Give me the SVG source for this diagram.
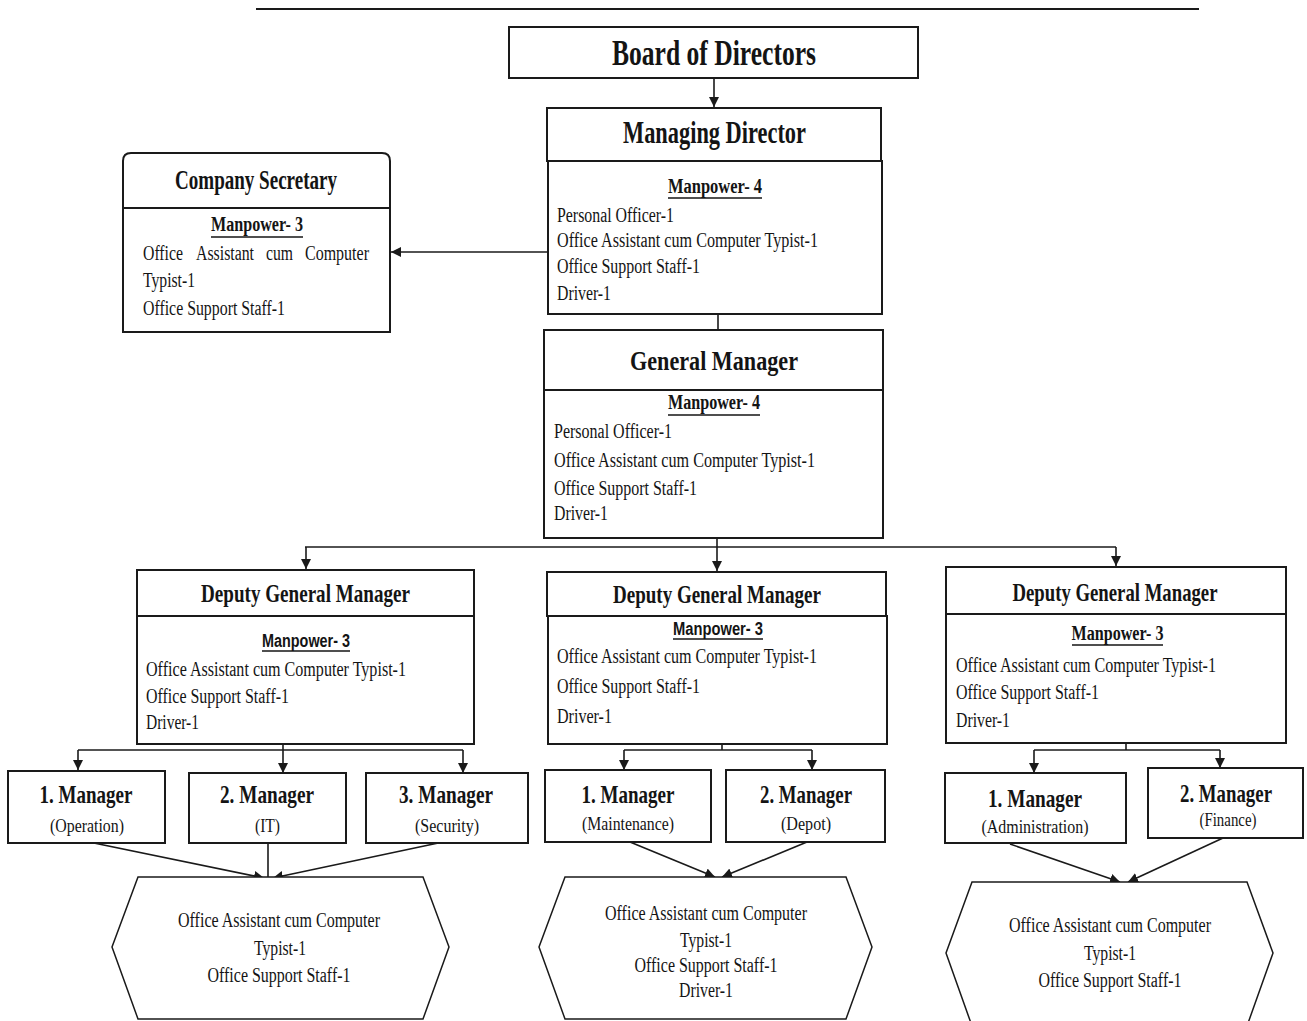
<svg xmlns="http://www.w3.org/2000/svg" width="1307" height="1021" viewBox="0 0 1307 1021">
<style>
.box{fill:#fff;stroke:#1a1a1a;stroke-width:2}
.hex{fill:#fff;stroke:#1a1a1a;stroke-width:1.5}
.con{fill:none;stroke:#1a1a1a;stroke-width:1.6}
.t{font-family:"Liberation Serif","Times New Roman",serif;fill:#141414}
.title{font-weight:bold}
.body{font-size:20px}
.mp{font-size:20px;font-weight:bold}
.mps{font-family:"Liberation Sans",Arial,sans-serif;font-size:18px;font-weight:bold;fill:#141414}
.ul{stroke:#141414;stroke-width:1.5}
.c{text-anchor:middle}
</style>
<defs>
<marker id="ah" markerUnits="userSpaceOnUse" markerWidth="11" markerHeight="10" refX="10" refY="5" orient="auto">
<path d="M0,0 L10,5 L0,10 z" fill="#1a1a1a"/>
</marker>
</defs>
<rect width="1307" height="1021" fill="#fff"/>
<line x1="256" y1="9" x2="1199" y2="9" stroke="#1a1a1a" stroke-width="2"/>

<g id="connectors">
<line class="con" x1="714" y1="78" x2="714" y2="107" marker-end="url(#ah)"/>
<line class="con" x1="547" y1="252" x2="391" y2="252" marker-end="url(#ah)"/>
<line class="con" x1="718" y1="314" x2="718" y2="330"/>
<polyline class="con" points="717,538 717,547"/>
<line class="con" x1="305" y1="547" x2="1116" y2="547"/>
<line class="con" x1="306" y1="547" x2="306" y2="569" marker-end="url(#ah)"/>
<line class="con" x1="717" y1="547" x2="717" y2="571" marker-end="url(#ah)"/>
<line class="con" x1="1116" y1="547" x2="1116" y2="566" marker-end="url(#ah)"/>
<line class="con" x1="283" y1="744" x2="283" y2="750"/>
<line class="con" x1="78" y1="750" x2="463" y2="750"/>
<line class="con" x1="78" y1="750" x2="78" y2="770" marker-end="url(#ah)"/>
<line class="con" x1="283" y1="750" x2="283" y2="773" marker-end="url(#ah)"/>
<line class="con" x1="463" y1="750" x2="463" y2="773" marker-end="url(#ah)"/>
<line class="con" x1="722" y1="744" x2="722" y2="750"/>
<line class="con" x1="624" y1="750" x2="812" y2="750"/>
<line class="con" x1="624" y1="750" x2="624" y2="770" marker-end="url(#ah)"/>
<line class="con" x1="812" y1="750" x2="812" y2="770" marker-end="url(#ah)"/>
<line class="con" x1="1126" y1="743" x2="1126" y2="750"/>
<line class="con" x1="1034" y1="750" x2="1220" y2="750"/>
<line class="con" x1="1034" y1="750" x2="1034" y2="773" marker-end="url(#ah)"/>
<line class="con" x1="1220" y1="750" x2="1220" y2="768" marker-end="url(#ah)"/>
<line class="con" x1="89" y1="842" x2="264" y2="878" marker-end="url(#ah)"/>
<line class="con" x1="268" y1="843" x2="268" y2="877"/>
<line class="con" x1="443" y1="842" x2="273" y2="878" marker-end="url(#ah)"/>
<line class="con" x1="630" y1="842" x2="715" y2="877" marker-end="url(#ah)"/>
<line class="con" x1="807" y1="842" x2="722" y2="877" marker-end="url(#ah)"/>
<line class="con" x1="1010" y1="844" x2="1120" y2="882" marker-end="url(#ah)"/>
<line class="con" x1="1223" y1="838" x2="1128" y2="882" marker-end="url(#ah)"/>
</g>

<g id="board">
<rect class="box" x="509" y="27" width="409" height="51"/>
<text class="t title c" x="714" y="65" font-size="36" textLength="204" lengthAdjust="spacingAndGlyphs">Board of Directors</text>
</g>

<g id="managing-director">
<rect class="box" x="548" y="161" width="334" height="153"/>
<rect class="box" x="547" y="108" width="334" height="53"/>
<text class="t title c" x="714.5" y="143" font-size="31" textLength="183" lengthAdjust="spacingAndGlyphs">Managing Director</text>
<text class="t mp c" x="715" y="193" textLength="94" lengthAdjust="spacingAndGlyphs">Manpower- 4</text>
<line class="ul" x1="668" y1="198" x2="762" y2="198"/>
<text class="t body" x="557" y="222" textLength="117" lengthAdjust="spacingAndGlyphs">Personal Officer-1</text>
<text class="t body" x="557" y="247" textLength="261" lengthAdjust="spacingAndGlyphs">Office Assistant cum Computer Typist-1</text>
<text class="t body" x="557" y="273" textLength="143" lengthAdjust="spacingAndGlyphs">Office Support Staff-1</text>
<text class="t body" x="557" y="300" textLength="54" lengthAdjust="spacingAndGlyphs">Driver-1</text>
</g>

<g id="company-secretary">
<path class="box" d="M123,332 V161 Q123,153 131,153 H382 Q390,153 390,161 V332 Z"/>
<line class="box" x1="123" y1="208" x2="390" y2="208"/>
<text class="t title c" x="256" y="189" font-size="27" textLength="162" lengthAdjust="spacingAndGlyphs">Company Secretary</text>
<text class="t mp c" x="257" y="231" textLength="92" lengthAdjust="spacingAndGlyphs">Manpower- 3</text>
<line class="ul" x1="211" y1="237" x2="303" y2="237"/>
<text class="t body" y="260"><tspan x="143" textLength="40" lengthAdjust="spacingAndGlyphs">Office</tspan><tspan x="196" textLength="58" lengthAdjust="spacingAndGlyphs">Assistant</tspan><tspan x="266" textLength="27" lengthAdjust="spacingAndGlyphs">cum</tspan><tspan x="305" textLength="64" lengthAdjust="spacingAndGlyphs">Computer</tspan></text>
<text class="t body" x="143" y="287" textLength="52" lengthAdjust="spacingAndGlyphs">Typist-1</text>
<text class="t body" x="143" y="315" textLength="142" lengthAdjust="spacingAndGlyphs">Office Support Staff-1</text>
</g>

<g id="general-manager">
<rect class="box" x="544" y="390" width="339" height="148"/>
<rect class="box" x="544" y="330" width="339" height="60"/>
<text class="t title c" x="714" y="370" font-size="28" textLength="168" lengthAdjust="spacingAndGlyphs">General Manager</text>
<text class="t mp c" x="714" y="409" textLength="92" lengthAdjust="spacingAndGlyphs">Manpower- 4</text>
<line class="ul" x1="668" y1="415" x2="760" y2="415"/>
<text class="t body" x="554" y="438" textLength="118" lengthAdjust="spacingAndGlyphs">Personal Officer-1</text>
<text class="t body" x="554" y="467" textLength="261" lengthAdjust="spacingAndGlyphs">Office Assistant cum Computer Typist-1</text>
<text class="t body" x="554" y="495" textLength="143" lengthAdjust="spacingAndGlyphs">Office Support Staff-1</text>
<text class="t body" x="554" y="520" textLength="54" lengthAdjust="spacingAndGlyphs">Driver-1</text>
</g>

<g id="dgm-1">
<rect class="box" x="137" y="616" width="337" height="128"/>
<rect class="box" x="137" y="570" width="337" height="46"/>
<text class="t title c" x="305.5" y="602" font-size="25" textLength="209" lengthAdjust="spacingAndGlyphs">Deputy General Manager</text>
<text class="mps c" x="306" y="647" textLength="88" lengthAdjust="spacingAndGlyphs">Manpower- 3</text>
<line class="ul" x1="262" y1="651" x2="350" y2="651"/>
<text class="t body" x="146" y="676" textLength="260" lengthAdjust="spacingAndGlyphs">Office Assistant cum Computer Typist-1</text>
<text class="t body" x="146" y="703" textLength="143" lengthAdjust="spacingAndGlyphs">Office Support Staff-1</text>
<text class="t body" x="146" y="729" textLength="53" lengthAdjust="spacingAndGlyphs">Driver-1</text>
</g>

<g id="dgm-2">
<rect class="box" x="548" y="616" width="339" height="128"/>
<rect class="box" x="547" y="572" width="339" height="44"/>
<text class="t title c" x="717" y="603" font-size="25" textLength="208" lengthAdjust="spacingAndGlyphs">Deputy General Manager</text>
<text class="mps c" x="718" y="635" textLength="90" lengthAdjust="spacingAndGlyphs">Manpower- 3</text>
<line class="ul" x1="673" y1="639" x2="763" y2="639"/>
<text class="t body" x="557" y="663" textLength="260" lengthAdjust="spacingAndGlyphs">Office Assistant cum Computer Typist-1</text>
<text class="t body" x="557" y="693" textLength="143" lengthAdjust="spacingAndGlyphs">Office Support Staff-1</text>
<text class="t body" x="557" y="723" textLength="55" lengthAdjust="spacingAndGlyphs">Driver-1</text>
</g>

<g id="dgm-3">
<rect class="box" x="946" y="614" width="340" height="129"/>
<rect class="box" x="946" y="567" width="340" height="47"/>
<text class="t title c" x="1115" y="601" font-size="25" textLength="205" lengthAdjust="spacingAndGlyphs">Deputy General Manager</text>
<text class="t mp c" x="1117.5" y="640" textLength="92" lengthAdjust="spacingAndGlyphs">Manpower- 3</text>
<line class="ul" x1="1072" y1="645" x2="1163" y2="645"/>
<text class="t body" x="956" y="672" textLength="260" lengthAdjust="spacingAndGlyphs">Office Assistant cum Computer Typist-1</text>
<text class="t body" x="956" y="699" textLength="143" lengthAdjust="spacingAndGlyphs">Office Support Staff-1</text>
<text class="t body" x="956" y="727" textLength="54" lengthAdjust="spacingAndGlyphs">Driver-1</text>
</g>

<g id="mgr-operation">
<rect class="box" x="8" y="771" width="157" height="72"/>
<text class="t title c" x="86" y="803" font-size="25" textLength="93" lengthAdjust="spacingAndGlyphs">1. Manager</text>
<text class="t c" x="87" y="832" font-size="18" textLength="74" lengthAdjust="spacingAndGlyphs">(Operation)</text>
</g>
<g id="mgr-it">
<rect class="box" x="189" y="773" width="157" height="70"/>
<text class="t title c" x="267" y="803" font-size="25" textLength="94" lengthAdjust="spacingAndGlyphs">2. Manager</text>
<text class="t c" x="267.5" y="832" font-size="18" textLength="25" lengthAdjust="spacingAndGlyphs">(IT)</text>
</g>
<g id="mgr-security">
<rect class="box" x="366" y="773" width="162" height="70"/>
<text class="t title c" x="446" y="803" font-size="25" textLength="94" lengthAdjust="spacingAndGlyphs">3. Manager</text>
<text class="t c" x="447" y="832" font-size="18" textLength="64" lengthAdjust="spacingAndGlyphs">(Security)</text>
</g>
<g id="mgr-maintenance">
<rect class="box" x="545" y="770" width="166" height="72"/>
<text class="t title c" x="628" y="803" font-size="25" textLength="93" lengthAdjust="spacingAndGlyphs">1. Manager</text>
<text class="t c" x="628" y="830" font-size="18" textLength="92" lengthAdjust="spacingAndGlyphs">(Maintenance)</text>
</g>
<g id="mgr-depot">
<rect class="box" x="726" y="770" width="159" height="72"/>
<text class="t title c" x="806" y="803" font-size="25" textLength="92" lengthAdjust="spacingAndGlyphs">2. Manager</text>
<text class="t c" x="806" y="830" font-size="18" textLength="50" lengthAdjust="spacingAndGlyphs">(Depot)</text>
</g>
<g id="mgr-administration">
<rect class="box" x="945" y="773" width="181" height="70"/>
<text class="t title c" x="1035" y="807" font-size="25" textLength="94" lengthAdjust="spacingAndGlyphs">1. Manager</text>
<text class="t c" x="1035" y="833" font-size="18" textLength="107" lengthAdjust="spacingAndGlyphs">(Administration)</text>
</g>
<g id="mgr-finance">
<rect class="box" x="1148" y="768" width="155" height="70"/>
<text class="t title c" x="1226" y="802" font-size="25" textLength="92" lengthAdjust="spacingAndGlyphs">2. Manager</text>
<text class="t c" x="1228" y="826" font-size="18" textLength="57" lengthAdjust="spacingAndGlyphs">(Finance)</text>
</g>

<g id="staff-1">
<polygon class="hex" points="138,877 423,877 449,947 423,1019 138,1019 112,947"/>
<text class="t body c" x="279" y="927" textLength="202" lengthAdjust="spacingAndGlyphs">Office Assistant cum Computer</text>
<text class="t body c" x="280" y="955" textLength="52" lengthAdjust="spacingAndGlyphs">Typist-1</text>
<text class="t body c" x="279" y="982" textLength="143" lengthAdjust="spacingAndGlyphs">Office Support Staff-1</text>
</g>
<g id="staff-2">
<polygon class="hex" points="565,877 846,877 872,947 846,1019 565,1019 539,947"/>
<text class="t body c" x="706" y="920" textLength="202" lengthAdjust="spacingAndGlyphs">Office Assistant cum Computer</text>
<text class="t body c" x="706" y="947" textLength="52" lengthAdjust="spacingAndGlyphs">Typist-1</text>
<text class="t body c" x="706" y="972" textLength="143" lengthAdjust="spacingAndGlyphs">Office Support Staff-1</text>
<text class="t body c" x="706" y="997" textLength="54" lengthAdjust="spacingAndGlyphs">Driver-1</text>
</g>
<g id="staff-3">
<polygon class="hex" points="972,882 1247,882 1273,953 1247,1026 972,1026 946,953"/>
<text class="t body c" x="1110" y="932" textLength="202" lengthAdjust="spacingAndGlyphs">Office Assistant cum Computer</text>
<text class="t body c" x="1110" y="960" textLength="52" lengthAdjust="spacingAndGlyphs">Typist-1</text>
<text class="t body c" x="1110" y="987" textLength="143" lengthAdjust="spacingAndGlyphs">Office Support Staff-1</text>
</g>
</svg>
